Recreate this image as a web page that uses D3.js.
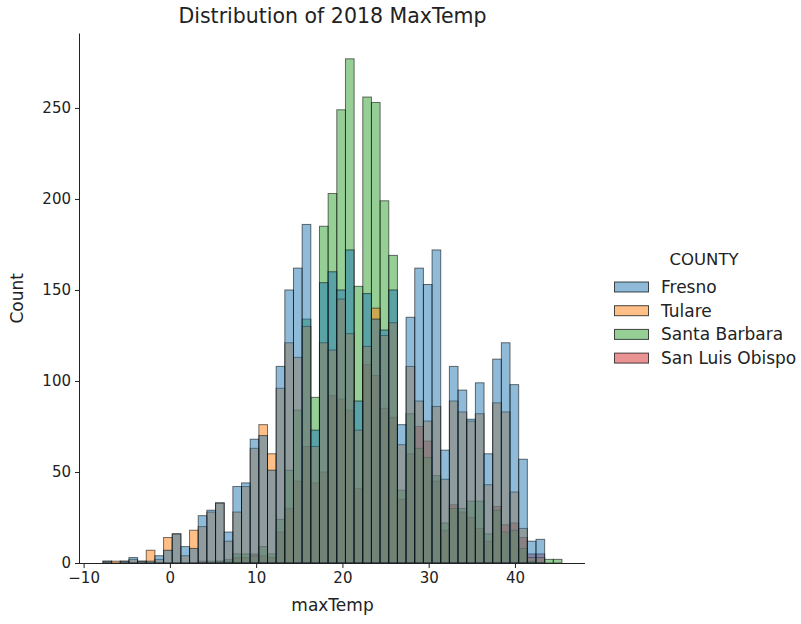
<!DOCTYPE html>
<html lang="en">
<head>
<meta charset="UTF-8">
<title>Distribution of 2018 MaxTemp</title>
<script src="https://cdnjs.cloudflare.com/ajax/libs/d3/7.8.5/d3.min.js"></script>
<style>
  body { margin: 0; background: #fff; }
  text { font-family: "DejaVu Sans", sans-serif; fill: #222; }
</style>
</head>
<body>
<svg id="chart" width="801" height="624"></svg>
<script>
// histogram bins shared by all counties
const binStart = -7.76;
const binWidth = 1.004;

const counties = ['Fresno', 'Tulare', 'Santa Barbara', 'San Luis Obispo'];
const colors = ['#1f77b4', '#ff7f0e', '#2ca02c', '#d62728'];

const fresno = [1, 0, 1, 3, 1, 1, 4, 7, 16, 9, 8, 26, 29, 33, 17, 42, 44, 68, 70, 51,
  108, 150, 162, 186, 73, 154, 160, 150, 172, 89, 148, 134, 128, 150, 76, 135, 162, 153, 172, 62,
  108, 95, 79, 99, 60, 112, 121, 98, 57, 12, 13, 0, 0];
const tulare = [1, 1, 1, 2, 1, 7, 2, 14, 16, 4, 18, 20, 28, 33, 12, 28, 42, 63, 76, 60,
  96, 121, 113, 130, 64, 121, 117, 145, 126, 73, 119, 140, 125, 132, 65, 108, 89, 78, 86, 46,
  89, 83, 78, 82, 43, 88, 83, 39, 19, 3, 3, 0, 0];
const santaBarbara = [0, 0, 0, 0, 0, 0, 0, 0, 0, 0, 0, 0, 1, 1, 2, 5, 5, 4, 9, 5,
  24, 51, 84, 134, 91, 185, 203, 249, 277, 152, 256, 253, 199, 169, 40, 82, 63, 58, 48, 22,
  30, 30, 34, 34, 16, 29, 17, 18, 8, 1, 0, 2, 2];
const sanLuisObispo = [0, 0, 0, 0, 0, 0, 0, 0, 0, 0, 0, 1, 0, 1, 1, 3, 3, 5, 4, 3,
  17, 30, 45, 64, 44, 50, 92, 90, 84, 41, 109, 103, 85, 80, 35, 60, 75, 67, 45, 18,
  32, 28, 25, 19, 12, 31, 21, 22, 14, 5, 5, 0, 0];

const xTicks = [-10, 0, 10, 20, 30, 40];
const yTicks = [0, 50, 100, 150, 200, 250];

const series = [fresno, tulare, santaBarbara, sanLuisObispo];

const svg = d3.select('#chart');
const plotLeft = 80, plotRight = 585, plotTop = 33.5, plotBottom = 563;

const x = d3.scaleLinear().domain([-10.42, 48.12]).range([plotLeft, plotRight]);
const y = d3.scaleLinear().domain([0, 290.9]).range([plotBottom, plotTop]);

// first hue level ends up on top, like seaborn
for (let s = series.length - 1; s >= 0; s--) {
  const bins = series[s].map((v, i) => ({ v, x0: binStart + i * binWidth, x1: binStart + (i + 1) * binWidth }))
    .filter(d => d.v > 0);
  svg.append('g')
    .selectAll('rect')
    .data(bins)
    .enter()
    .append('rect')
    .attr('x', d => x(d.x0))
    .attr('width', d => x(d.x1) - x(d.x0))
    .attr('y', d => y(d.v))
    .attr('height', d => y(0) - y(d.v))
    .attr('fill', colors[s])
    .attr('fill-opacity', 0.5)
    .attr('stroke', '#000')
    .attr('stroke-opacity', 0.55)
    .attr('stroke-width', 1);
}

const xAxis = svg.append('g')
  .attr('transform', `translate(0,${plotBottom})`)
  .call(d3.axisBottom(x).tickValues(xTicks).tickSize(5).tickPadding(4)
    .tickFormat(d => d < 0 ? '\u2212' + Math.abs(d) : d));
const yAxis = svg.append('g')
  .attr('transform', `translate(${plotLeft},0)`)
  .call(d3.axisLeft(y).tickValues(yTicks).tickSize(5).tickPadding(4));

[xAxis, yAxis].forEach(g => {
  g.selectAll('text').style('font-size', '15px').attr('fill', '#222');
  g.selectAll('line').attr('stroke', '#222');
  g.select('.domain').attr('stroke', '#222');
});
xAxis.select('.domain').attr('d', `M${plotLeft},0.5H${plotRight}`);
yAxis.select('.domain').attr('d', `M-0.5,${plotBottom}V${plotTop}`);

svg.append('text')
  .attr('x', (plotLeft + plotRight) / 2)
  .attr('y', 23)
  .attr('text-anchor', 'middle')
  .style('font-size', '20.5px')
  .text('Distribution of 2018 MaxTemp');

svg.append('text')
  .attr('x', (plotLeft + plotRight) / 2)
  .attr('y', 611)
  .attr('text-anchor', 'middle')
  .style('font-size', '17px')
  .text('maxTemp');

svg.append('text')
  .attr('transform', `translate(23,${(plotTop + plotBottom) / 2}) rotate(-90)`)
  .attr('text-anchor', 'middle')
  .style('font-size', '17px')
  .text('Count');

const legend = svg.append('g').attr('transform', 'translate(614,0)');
legend.append('text')
  .attr('x', 90)
  .attr('y', 265)
  .attr('text-anchor', 'middle')
  .style('font-size', '16.5px')
  .text('COUNTY');

const items = legend.selectAll('g.item')
  .data(counties)
  .enter()
  .append('g')
  .attr('class', 'item')
  .attr('transform', (d, i) => `translate(0,${287 + i * 23.7})`);

items.append('rect')
  .attr('x', 0.5)
  .attr('y', -5)
  .attr('width', 34)
  .attr('height', 10)
  .attr('fill', (d, i) => colors[i])
  .attr('fill-opacity', 0.5)
  .attr('stroke', '#000')
  .attr('stroke-opacity', 0.7);

items.append('text')
  .attr('x', 47)
  .attr('y', 6)
  .style('font-size', '17px')
  .text(d => d);
</script>
</body>
</html>
